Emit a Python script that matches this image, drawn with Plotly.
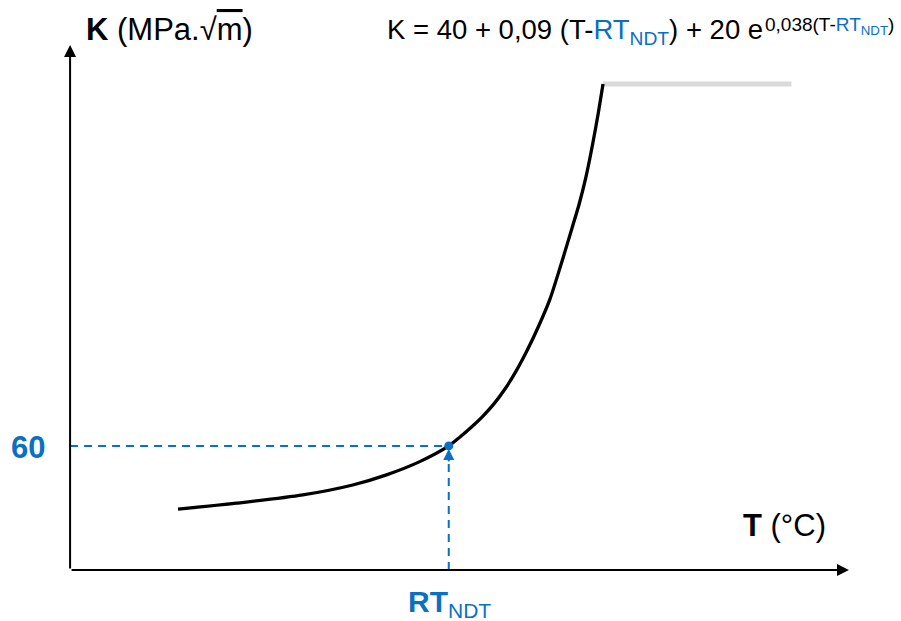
import plotly.graph_objects as go

# Curve (T relative to RT_NDT, K in MPa.sqrt(m))
T_curve = [-120.4, -94.4, -64.9, -42.7, -27.7, -12.9, 0, 5, 10, 15, 20, 25, 30, 35, 40,
           45, 50, 55, 58, 61, 64, 66.5, 68.6]
K_curve = [29.4, 32.3, 36.3, 41.1, 46.0, 52.4, 60, 64.3, 69, 74.2, 80.2, 87.5, 96.3, 106.5, 118,
           131, 148, 166, 177, 190, 206, 221, 235]

# Upper shelf (grey)
T_shelf = [68.6, 152.4]
K_shelf = [235, 235]

# Reference point
RT_NDT = 0
K_ref = 60

# Axes extents
T_axis = [-168.4, 178.0]
K_axis = [0, 253.9]

BLUE = "#0a70c4"
FONT = "Liberation Sans, Arial, sans-serif"

W, H = 901, 621
L, R, TM, B = 44, 25, 22, 20
PW, PH = W - L - R, H - TM - B


def px(xp):
    return (xp - L) / PW


def py(yp):
    return (H - B - yp) / PH


fig = go.Figure()

fig.add_trace(go.Scatter(x=T_shelf, y=K_shelf, mode="lines",
                         line=dict(color="#d9d9d9", width=5), hoverinfo="skip"))
fig.add_trace(go.Scatter(x=T_curve, y=K_curve, mode="lines", line_shape="spline",
                         line=dict(color="black", width=3.3, smoothing=0.8), hoverinfo="skip"))

# dashed guides
fig.add_shape(type="line", x0=T_axis[0], x1=RT_NDT, y0=K_ref, y1=K_ref,
              line=dict(color=BLUE, width=2, dash="8px,6px"))
fig.add_shape(type="line", x0=RT_NDT, x1=RT_NDT, y0=0, y1=K_ref - 4,
              line=dict(color=BLUE, width=2, dash="8px,6px"))

fig.add_trace(go.Scatter(x=[RT_NDT], y=[K_ref], mode="markers",
                         marker=dict(color=BLUE, size=9), hoverinfo="skip"))

# axis arrows
fig.add_annotation(x=T_axis[1], y=0, ax=T_axis[0], ay=0, xref="x", yref="y",
                   axref="x", ayref="y", text="", showarrow=True,
                   arrowhead=2, arrowsize=1.2, arrowwidth=2, arrowcolor="black")
fig.add_annotation(x=T_axis[0], y=K_axis[1], ax=T_axis[0], ay=0, xref="x", yref="y",
                   axref="x", ayref="y", text="", showarrow=True,
                   arrowhead=2, arrowsize=1.2, arrowwidth=2, arrowcolor="black")
# small blue arrow head on the vertical guide
fig.add_annotation(x=RT_NDT, y=K_ref - 1.5, ax=0, ay=14, xref="x", yref="y",
                   text="", showarrow=True, arrowhead=2, arrowsize=1.1,
                   arrowwidth=2, arrowcolor=BLUE)

# texts
fig.add_annotation(x=px(28), y=py(447), xref="paper", yref="paper", text="<b>60</b>",
                   showarrow=False, font=dict(family=FONT, size=31, color=BLUE),
                   xanchor="center", yanchor="middle")
fig.add_annotation(x=px(449), y=py(603), xref="paper", yref="paper",
                   text="<b>RT</b><sub>NDT</sub>",
                   showarrow=False, font=dict(family=FONT, size=30, color=BLUE),
                   xanchor="center", yanchor="middle")
fig.add_annotation(x=px(741), y=py(525), xref="paper", yref="paper",
                   text="<b>T</b> (°C)",
                   showarrow=False, font=dict(family=FONT, size=31, color="black"),
                   xanchor="left", yanchor="middle")
fig.add_annotation(x=px(84), y=py(30), xref="paper", yref="paper",
                   text="<b>K</b> (MPa.√<span style='text-decoration:overline'>m</span>)",
                   showarrow=False, font=dict(family=FONT, size=31, color="black"),
                   xanchor="left", yanchor="middle")
fig.add_annotation(x=px(385), y=py(31), xref="paper", yref="paper",
                   text=f"K = 40 + 0,09 (T-<span style='color:{BLUE}'>RT<sub>NDT</sub></span>) + 20 e",
                   showarrow=False, font=dict(family=FONT, size=27.5, color="black"),
                   xanchor="left", yanchor="middle")
fig.add_annotation(x=px(763), y=py(26), xref="paper", yref="paper",
                   text=f"0,038(T-<span style='color:{BLUE}'>RT<sub>NDT</sub></span>)",
                   showarrow=False, font=dict(family=FONT, size=19, color="black"),
                   xanchor="left", yanchor="middle")

fig.update_layout(
    width=W, height=H, margin=dict(l=L, r=R, t=TM, b=B),
    plot_bgcolor="white", paper_bgcolor="white", showlegend=False,
    xaxis=dict(range=[-180, 190], visible=False, fixedrange=True),
    yaxis=dict(range=[-15, 265], visible=False, fixedrange=True),
)

fig.write_html("out.html", config={"displayModeBar": False},
               post_script="document.body.style.margin='0';")
